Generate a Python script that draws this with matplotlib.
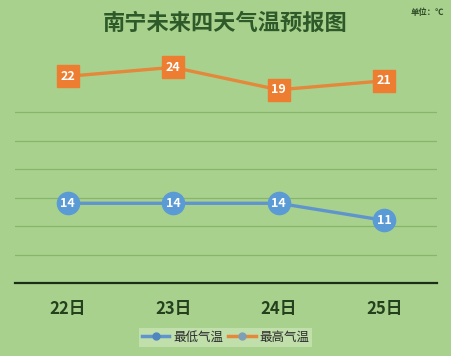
import matplotlib.pyplot as plt
from matplotlib.lines import Line2D

plt.rcParams['font.family'] = ['Noto Sans CJK SC', 'DejaVu Sans']

# Data
days = ["22日", "23日", "24日", "25日"]
low_temps = [14, 14, 14, 11]
high_temps = [22, 24, 19, 21]

bg = "#a9d18e"
blue = "#5b9bd5"
orange = "#ed7d31"
dark = "#24401c"

fig = plt.figure(figsize=(4.51, 3.56), dpi=100, facecolor=bg)
ax = fig.add_axes([0.033, 0.205, 0.936, 0.64])
ax.set_facecolor(bg)
ax2 = ax.twinx()

x = list(range(len(days)))

# Low temps on primary axis
ax.plot(x, low_temps, color="#5f95cc", lw=2.4, marker="o", ms=16,
        markerfacecolor=blue, markeredgecolor=blue, zorder=3)
for xi, v in zip(x, low_temps):
    ax.text(xi, v, str(v), color="white", fontsize=9, fontweight="bold",
            ha="center", va="center", zorder=4)

# High temps on secondary axis
ax2.plot(x, high_temps, color="#e4883c", lw=2.4, marker="s", ms=16,
         markerfacecolor=orange, markeredgecolor=orange, zorder=3)
for xi, v in zip(x, high_temps):
    ax2.text(xi, v, str(v), color="white", fontsize=9, fontweight="bold",
             ha="center", va="center", zorder=4)

ax.set_xlim(-0.5, 3.5)
ax.set_ylim(0, 40)
ax2.set_ylim(-24, 26.7)

ax.set_yticks([0, 5, 10, 15, 20, 25, 30])
ax.yaxis.grid(True, color="#86b56c", lw=0.9)
ax.set_axisbelow(True)
ax.tick_params(axis="y", left=False, labelleft=False)
ax2.tick_params(axis="y", right=False, labelright=False)

ax.set_xticks(x)
ax.set_xticklabels(days, fontsize=12, fontweight="bold", color=dark)
ax.tick_params(axis="x", length=0, pad=12)

for a in (ax, ax2):
    for s in ["top", "right", "left", "bottom"]:
        a.spines[s].set_visible(False)
ax.spines["bottom"].set_visible(True)
ax.spines["bottom"].set_color("#1c2e17")
ax.spines["bottom"].set_linewidth(1.6)

# Title and unit
fig.text(0.5, 0.935, "南宁未来四天气温预报图", fontsize=16, color="#2e5a2a",
         ha="center", va="center", fontweight="bold")
fig.text(0.985, 0.965, "单位：℃", fontsize=6, color="#2e4a26",
         ha="right", va="center", fontweight="bold")

# Legend
handles = [
    Line2D([0], [0], color="#5f95cc", lw=2.5, marker="o", ms=5,
           markerfacecolor="#4f86c0", markeredgecolor="#4f86c0"),
    Line2D([0], [0], color="#e4883c", lw=2.5, marker="o", ms=5,
           markerfacecolor="#7f9fb5", markeredgecolor="#7f9fb5"),
]
fig.legend(handles, ["最低气温", "最高气温"], loc="center",
           bbox_to_anchor=(0.5, 0.053), ncol=2, fontsize=9, frameon=True,
           facecolor="#c0dfab", edgecolor="none", framealpha=1,
           handlelength=2.2, columnspacing=0.4, handletextpad=0.3,
           borderpad=0.25, fancybox=False, labelcolor="#2a2a2a")

fig.savefig("out.png", dpi=100, facecolor=bg)
